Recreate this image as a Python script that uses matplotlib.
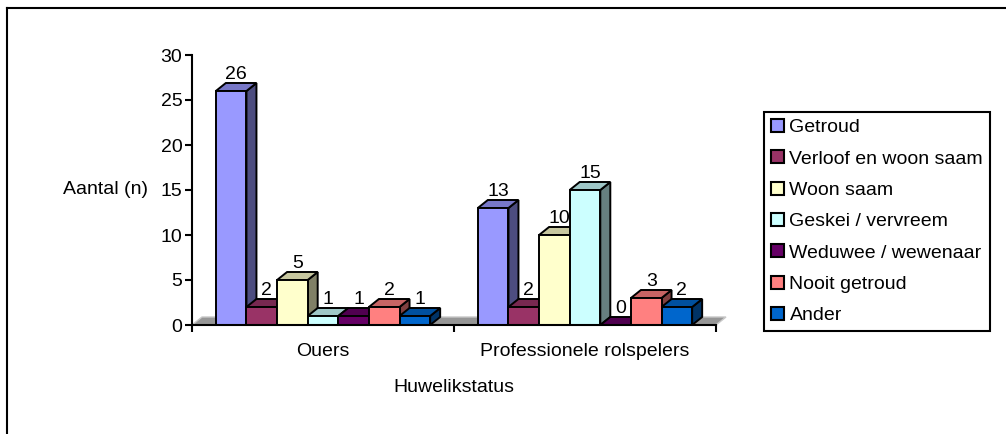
import matplotlib
matplotlib.use('Agg')
import matplotlib.pyplot as plt
from matplotlib.patches import Polygon, Patch
from matplotlib.lines import Line2D
import numpy as np

plt.rcParams['font.family'] = ['Liberation Sans', 'DejaVu Sans']
plt.rcParams['font.size'] = 14

# ------------------------------------------------------------
# Data
# ------------------------------------------------------------
groups = ['Ouers', 'Professionele rolspelers']
series = ['Getroud', 'Verloof en woon saam', 'Woon saam', 'Geskei / vervreem',
          'Weduwee / wewenaar', 'Nooit getroud', 'Ander']
ouers = [26, 2, 5, 1, 1, 2, 1]
professioneel = [13, 2, 10, 15, 0, 3, 2]
colors = ['#9999FF', '#993366', '#FFFFCC', '#CCFFFF', '#660066', '#FF8080', '#0066CC']

values = [ouers, professioneel]


def shade(c, f):
    rgb = np.array(matplotlib.colors.to_rgb(c))
    return tuple(rgb * f)


W, H = 1006, 434
fig = plt.figure(figsize=(W / 100, H / 100), dpi=100)
ax = fig.add_axes([192 / W, (H - 325) / H, (716 - 192) / W, (325 - 55) / H])
ax.set_xlim(-0.5, 1.5)
ax.set_ylim(0, 30)

# 3D depth offsets (data units)
ddx = 10 / 262
ddy = 8 / 9.0

n = len(series)
w = 0.818 / n

# floor
floor = Polygon([(-0.5, 0), (1.5, 0), (1.5 + ddx, ddy), (-0.5 + ddx, ddy)],
                closed=True, facecolor='#969696', edgecolor='#c8c8c8', lw=1,
                zorder=1, clip_on=False)
ax.add_patch(floor)

for g, vals in enumerate(values):
    x0 = g - w * n / 2
    for i, v in enumerate(vals):
        xl = x0 + i * w
        xr = xl + w
        z = 2 + i * 3
        c = colors[i]
        side = Polygon([(xr, 0), (xr + ddx, ddy), (xr + ddx, v + ddy), (xr, v)],
                       closed=True, facecolor=shade(c, 0.5), edgecolor='black',
                       lw=1.4, zorder=z, clip_on=False)
        top = Polygon([(xl, v), (xl + ddx, v + ddy), (xr + ddx, v + ddy), (xr, v)],
                      closed=True, facecolor=shade(c, 0.78), edgecolor='black',
                      lw=1.4, zorder=z + 1, clip_on=False)
        ax.add_patch(side)
        ax.add_patch(top)
        ax.bar(xl, v, width=w, align='edge', color=c, edgecolor='black',
               lw=1.4, zorder=z + 2)
        ax.annotate(str(v), (xl + w / 2 + ddx / 2, v + ddy), xytext=(0, 3),
                    textcoords='offset points', ha='center', va='baseline',
                    zorder=100)

# axes styling
for s in ['top', 'right']:
    ax.spines[s].set_visible(False)
for s in ['left', 'bottom']:
    ax.spines[s].set_linewidth(1.5)
    ax.spines[s].set_zorder(50)
ax.set_yticks(range(0, 31, 5))
ax.tick_params(axis='y', length=5, width=1.5, pad=2)
ax.set_xticks([-0.5, 0.5, 1.5])
ax.set_xticklabels([])
ax.tick_params(axis='x', which='major', length=5, width=1.5, direction='out')
ax.set_xticks([0, 1], minor=True)
ax.set_xticklabels(groups, minor=True)
ax.tick_params(axis='x', which='minor', length=0, pad=13)
ax.set_xlabel('Huwelikstatus', labelpad=14)
ax.set_ylabel('Aantal (n)', rotation=0, ha='right', va='center')
ax.yaxis.set_label_coords(-0.084, 0.5)

handles = [Patch(facecolor=c, edgecolor='black', lw=1.5) for c in colors]
leg = fig.legend(handles, series, loc='upper left',
                 bbox_to_anchor=(764 / W, 1 - 112 / H), frameon=True,
                 fancybox=False, edgecolor='black', framealpha=1,
                 handlelength=0.65, handleheight=0.65, handletextpad=0.3,
                 labelspacing=0.72, borderpad=0.36, borderaxespad=0)
leg.get_frame().set_linewidth(1.5)

# chart border
fig.add_artist(Line2D([7 / W, 7 / W], [0, 1 - 8 / H], color='black', lw=1.5))
fig.add_artist(Line2D([7 / W, 1], [1 - 8 / H, 1 - 8 / H], color='black', lw=1.5))

fig.savefig('out.png', dpi=100)
